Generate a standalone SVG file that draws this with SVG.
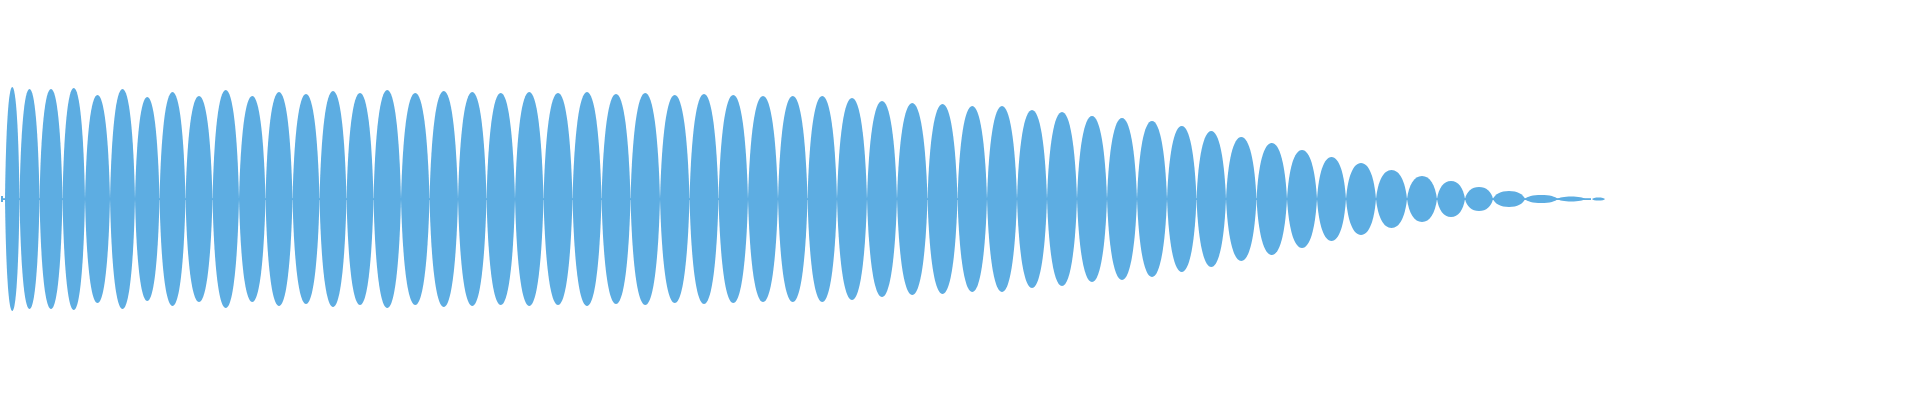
<svg xmlns="http://www.w3.org/2000/svg" width="1920" height="400" viewBox="0 0 1920 400">
<style>.w{fill:#5DADE2}</style>
<defs><path id="L" d="M0,0 C0.06,-0.62 0.24,-1 0.5,-1 C0.76,-1 0.94,-0.62 1,0 C0.94,0.62 0.76,1 0.5,1 C0.24,1 0.06,0.62 0,0Z"/></defs>
<rect width="1920" height="400" fill="#fff"/>
<g id="waveform" class="w">
<rect x="1" y="198.2" width="1590" height="1.8"/>
<rect x="1" y="196" width="2" height="6"/>
<use href="#L" transform="translate(5,199) scale(14.5,112)"/>
<use href="#L" transform="translate(19.5,199) scale(20,110)"/>
<use href="#L" transform="translate(39.5,199) scale(23,110)"/>
<use href="#L" transform="translate(62.5,199) scale(22.5,111)"/>
<use href="#L" transform="translate(85,199) scale(25,104)"/>
<use href="#L" transform="translate(110,199) scale(25,110)"/>
<use href="#L" transform="translate(135,199) scale(24.5,102)"/>
<use href="#L" transform="translate(159.5,199) scale(26,107)"/>
<use href="#L" transform="translate(185.5,199) scale(27,103)"/>
<use href="#L" transform="translate(212.5,199) scale(26.5,109)"/>
<use href="#L" transform="translate(239,199) scale(26.5,103)"/>
<use href="#L" transform="translate(265.5,199) scale(27,107)"/>
<use href="#L" transform="translate(292.5,199) scale(27,105)"/>
<use href="#L" transform="translate(319.5,199) scale(27,108)"/>
<use href="#L" transform="translate(346.5,199) scale(27,106)"/>
<use href="#L" transform="translate(373.5,199) scale(27.5,109)"/>
<use href="#L" transform="translate(401,199) scale(28.5,106)"/>
<use href="#L" transform="translate(429.5,199) scale(28.5,108)"/>
<use href="#L" transform="translate(458,199) scale(28.5,107)"/>
<use href="#L" transform="translate(486.5,199) scale(28.5,106)"/>
<use href="#L" transform="translate(515,199) scale(28.5,107)"/>
<use href="#L" transform="translate(543.5,199) scale(29,106)"/>
<use href="#L" transform="translate(572.5,199) scale(29,107)"/>
<use href="#L" transform="translate(601.5,199) scale(29,105)"/>
<use href="#L" transform="translate(630.5,199) scale(29.5,106)"/>
<use href="#L" transform="translate(660,199) scale(29.5,104)"/>
<use href="#L" transform="translate(689.5,199) scale(29,105)"/>
<use href="#L" transform="translate(718.5,199) scale(29.5,104)"/>
<use href="#L" transform="translate(748,199) scale(30,103)"/>
<use href="#L" transform="translate(778,199) scale(29.5,103)"/>
<use href="#L" transform="translate(807.5,199) scale(29.5,103)"/>
<use href="#L" transform="translate(837,199) scale(30,101)"/>
<use href="#L" transform="translate(867,199) scale(30,98)"/>
<use href="#L" transform="translate(897,199) scale(30.5,96)"/>
<use href="#L" transform="translate(927.5,199) scale(30,95)"/>
<use href="#L" transform="translate(957.5,199) scale(29.5,93)"/>
<use href="#L" transform="translate(987,199) scale(30,93)"/>
<use href="#L" transform="translate(1017,199) scale(30,89)"/>
<use href="#L" transform="translate(1047,199) scale(30,87)"/>
<use href="#L" transform="translate(1077,199) scale(30,83)"/>
<use href="#L" transform="translate(1107,199) scale(30,81)"/>
<use href="#L" transform="translate(1137,199) scale(30,78)"/>
<use href="#L" transform="translate(1167,199) scale(29.5,73)"/>
<use href="#L" transform="translate(1196.5,199) scale(29.5,68)"/>
<use href="#L" transform="translate(1226,199) scale(30.5,62)"/>
<use href="#L" transform="translate(1256.5,199) scale(30.5,56)"/>
<use href="#L" transform="translate(1287,199) scale(30,49)"/>
<use href="#L" transform="translate(1317,199) scale(29,42)"/>
<use href="#L" transform="translate(1346,199) scale(30,36)"/>
<use href="#L" transform="translate(1376,199) scale(31,29)"/>
<use href="#L" transform="translate(1407,199) scale(30,23)"/>
<use href="#L" transform="translate(1437,199) scale(28,18)"/>
<use href="#L" transform="translate(1465,199) scale(28,12)"/>
<use href="#L" transform="translate(1493,199) scale(32,8)"/>
<use href="#L" transform="translate(1525,199) scale(32.5,4)"/>
<use href="#L" transform="translate(1557.5,199) scale(27.5,2.5)"/>
<use href="#L" transform="translate(1592,199) scale(13,1.6)"/>
</g>
</svg>
